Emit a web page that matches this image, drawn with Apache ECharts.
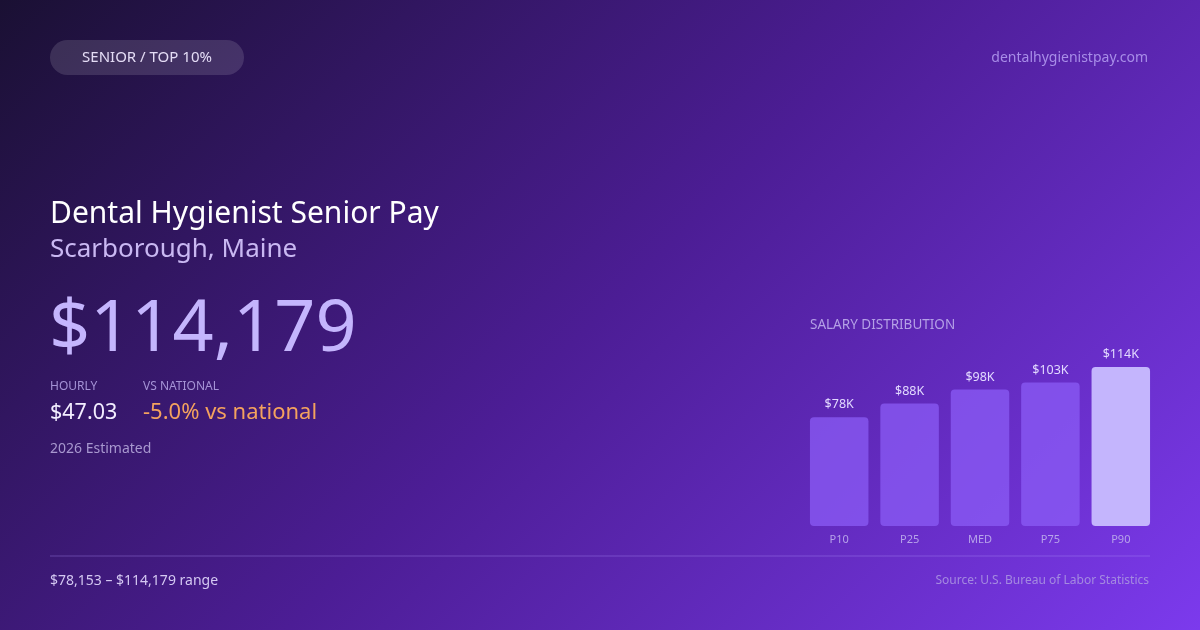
<!DOCTYPE html>
<html><head><meta charset="utf-8">
<script src="https://cdn.jsdelivr.net/npm/echarts@6/dist/echarts.min.js"></script>
<style>html,body{margin:0;padding:0;background:#2a1560}#c{width:1200px;height:630px}</style>
</head><body><div id="c"></div>
<script>
var categories = ['P10', 'P25', 'MED', 'P75', 'P90'];
var salaries = [78153, 88000, 98000, 103000, 114179];
var barLabels = ['$78K', '$88K', '$98K', '$103K', '$114K'];

var FONT = '"Noto Sans", "Open Sans", sans-serif';
var chart = echarts.init(document.getElementById('c'), null, {renderer: 'canvas', width: 1200, height: 630});

function txt(x, y, text, size, color, align) {
  return {type: 'text', x: x, y: y, z: 10,
    style: {text: text, font: size + 'px ' + FONT, fill: color, textAlign: align || 'left', textVerticalAlign: 'middle'}};
}

chart.setOption({
  backgroundColor: {
    type: 'linear', global: true, x: 142.5, y: -142.5, x2: 1057.5, y2: 772.5,
    colorStops: [
      {offset: 0, color: '#1a1033'},
      {offset: 0.5, color: '#4c1d95'},
      {offset: 1, color: '#7c3aed'}
    ]
  },
  grid: {left: 804, right: 44, top: 367, bottom: 104},
  xAxis: {
    type: 'category', data: categories,
    axisLine: {show: false}, axisTick: {show: false},
    axisLabel: {color: '#b7a3ea', fontSize: 11, fontFamily: FONT, margin: 8}
  },
  yAxis: {type: 'value', min: 0, max: 114179, show: false, splitLine: {show: false}},
  series: [{
    type: 'bar', barWidth: 58.5,
    data: salaries.map(function (v, i) {
      return {
        value: v,
        itemStyle: {color: i === salaries.length - 1 ? '#c4b5fd' : 'rgba(139,92,246,0.75)', borderRadius: 4}
      };
    }),
    label: {
      show: true, position: 'top', distance: 6,
      color: '#e2d9ff', fontSize: 12.5, fontFamily: FONT,
      formatter: function (p) { return barLabels[p.dataIndex]; }
    },
    silent: true
  }],
  graphic: [
    {type: 'rect', shape: {x: 50, y: 40, width: 194, height: 35, r: 17.5}, style: {fill: 'rgba(255,255,255,0.13)'}, z: 5},
    txt(147, 58, 'SENIOR / TOP 10%', 15, '#e4dcf5', 'center'),
    txt(1148, 58, 'dentalhygienistpay.com', 14, '#a88de8', 'right'),
    txt(50, 214, 'Dental Hygienist Senior Pay', 30, '#ffffff'),
    txt(50, 250, 'Scarborough, Maine', 26, '#c9b8f2'),
    txt(49, 330, '$114,179', 72, '#c4b5fd'),
    txt(50, 387, 'HOURLY', 12, '#a593d6'),
    txt(143, 387, 'VS NATIONAL', 12, '#a593d6'),
    txt(50, 413, '$47.03', 21.5, '#f3eeff'),
    txt(143, 413, '-5.0% vs national', 22, '#f4a25e'),
    txt(50, 449, '2026 Estimated', 14, '#a898cf'),
    txt(810, 325, 'SALARY DISTRIBUTION', 13.5, '#b4a0e6'),
    {type: 'line', shape: {x1: 50, y1: 556, x2: 1150, y2: 556}, style: {stroke: 'rgba(180,150,255,0.35)', lineWidth: 1}, z: 5},
    txt(50, 581, '$78,153 \u2013 $114,179 range', 14, '#d4c8f2'),
    txt(1149, 581, 'Source: U.S. Bureau of Labor Statistics', 12, '#a48ae0', 'right')
  ]
});
</script></body></html>
